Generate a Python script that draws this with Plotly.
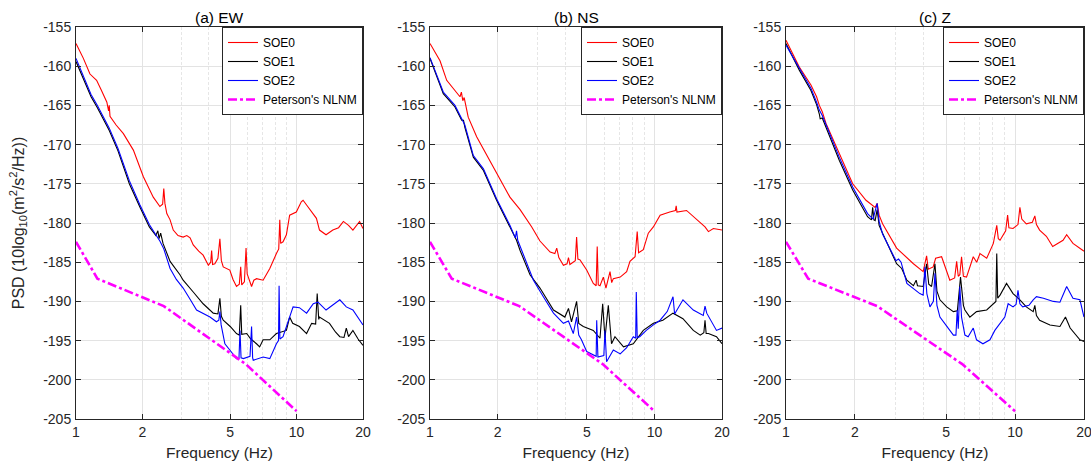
import plotly.graph_objects as go

# ---------------- data ----------------
SERIES_NAMES = ["SOE0", "SOE1", "SOE2", "Peterson's NLNM"]
PANEL_TITLES = ["(a) EW", "(b) NS", "(c) Z"]
X_TICKS = [1, 2, 5, 10, 20]
X_MINOR = [3, 4, 6, 7, 8, 9]
Y_TICKS = [-205, -200, -195, -190, -185, -180, -175, -170, -165, -160, -155]

# Peterson's New Low Noise Model (velocity PSD), shared by all panels
NLNM_F = [1.0, 1.25, 2.5, 5.88, 10.0]
NLNM_V = [-182.4, -187.1, -190.6, -198.0, -204.0]

# ---- (a) EW ----
EW_SOE0_F = [1.00, 1.08, 1.157, 1.24, 1.30, 1.38, 1.405, 1.415, 1.426, 1.52, 1.64, 1.82, 2.02, 2.24, 2.40,
             2.47, 2.50, 2.53, 2.58, 2.67, 2.76, 2.9, 3.06, 3.18, 3.29, 3.40, 3.60, 3.77, 3.98, 4.08, 4.12,
             4.16, 4.26, 4.40, 4.49, 4.56, 4.65, 4.98, 5.15, 5.34, 5.50, 5.58, 5.64, 5.80, 5.90, 5.97, 6.04,
             6.25, 6.40, 6.58, 7.05, 7.56, 8.10, 8.30, 8.39, 8.47, 8.68, 8.99, 9.30, 9.97, 10.5, 10.7, 11.1,
             11.5, 11.9, 12.3, 12.7, 13.6, 14.6, 15.5, 16.3, 17.2, 18.0, 19.3, 20.0]
EW_SOE0_V = [-157.1, -159.0, -161.0, -161.8, -163.0, -164.6, -165.7, -165.0, -166.4, -167.5, -168.6, -170.7,
             -174.1, -176.7, -177.9, -177.6, -175.6, -177.5, -178.8, -179.6, -180.9, -181.6, -181.8, -181.6,
             -181.9, -182.8, -183.6, -184.1, -185.4, -185.0, -183.5, -185.3, -185.2, -184.5, -182.0, -184.8,
             -185.6, -186.0, -187.2, -188.1, -187.8, -185.6, -187.9, -187.5, -183.2, -186.5, -186.9, -188.1,
             -187.3, -187.1, -187.3, -185.8, -183.9, -183.3, -179.6, -182.6, -182.4, -181.5, -179.0, -178.6,
             -177.3, -177.1, -177.7, -178.3, -179.0, -179.4, -180.9, -181.5, -180.9, -180.6, -179.8, -180.3,
             -180.9, -179.8, -180.7]

EW_SOE1_F = [1.00, 1.08, 1.17, 1.25, 1.32, 1.415, 1.55, 1.745, 1.95, 2.15, 2.30, 2.35, 2.38, 2.42, 2.48,
             2.58, 2.67, 2.96, 3.06, 3.40, 3.77, 4.19, 4.40, 4.49, 4.56, 4.65, 5.00, 5.34, 5.50, 5.58, 5.64,
             5.94, 6.2, 6.58, 6.80, 7.05, 7.56, 8.10, 8.99, 9.3, 9.6, 10.3, 11.1, 11.7, 12.2, 12.4, 12.6,
             12.7, 14.1, 15.0, 15.7, 16.4, 16.8, 17.2, 18.0, 19.0, 20.0]
EW_SOE1_V = [-159.4, -161.6, -163.9, -165.3, -166.6, -168.2, -170.8, -175.0, -178.0, -180.5, -181.6, -181.0,
             -182.0, -181.3, -182.6, -183.9, -184.9, -186.6, -187.3, -188.8, -190.3, -191.5, -191.6, -189.6,
             -191.9, -192.4, -193.2, -194.1, -194.3, -190.5, -194.2, -194.1, -194.8, -195.4, -195.8, -194.9,
             -194.9, -194.1, -193.7, -192.0, -192.8, -193.2, -194.1, -192.8, -192.9, -189.0, -192.3, -192.0,
             -192.8, -193.9, -194.5, -194.6, -193.4, -194.5, -193.7, -194.8, -195.6]

EW_SOE2_F = [1.00, 1.08, 1.17, 1.25, 1.32, 1.415, 1.55, 1.745, 1.95, 2.15, 2.30, 2.40, 2.50, 2.67, 2.85,
             3.06, 3.30, 3.52, 4.05, 4.33, 4.44, 4.49, 4.55, 4.73, 4.98, 5.34, 5.48, 5.54, 5.60, 5.74, 6.15,
             6.25, 6.32, 6.36, 7.05, 7.56, 8.10, 8.28, 8.33, 8.40, 8.68, 9.3, 9.64, 10.3, 11.1, 11.9, 12.5,
             13.6, 15.7, 16.8, 18.0, 20.0]
EW_SOE2_V = [-159.0, -161.3, -163.6, -165.0, -166.3, -167.9, -170.5, -174.6, -177.7, -180.2, -181.5, -182.3,
             -183.3, -185.8, -187.2, -188.3, -189.8, -191.1, -192.0, -192.6, -192.4, -191.3, -193.0, -195.4,
             -196.2, -197.3, -197.3, -193.7, -197.2, -197.3, -197.0, -193.2, -197.2, -197.5, -197.1, -197.3,
             -195.4, -195.0, -188.0, -194.8, -194.5, -192.0, -190.7, -190.8, -191.5, -190.3, -190.1, -191.1,
             -189.8, -190.7, -191.1, -193.0]

# ---- (b) NS ----
NS_SOE0_F = [1.00, 1.108, 1.187, 1.292, 1.36, 1.38, 1.40, 1.42, 1.48, 1.614, 1.98, 2.27, 2.52, 2.84, 3.09,
             3.43, 3.60, 3.67, 3.75, 3.93, 4.08, 4.14, 4.20, 4.35, 4.44, 4.50, 4.56, 4.66, 4.99, 5.34, 5.50,
             5.56, 5.62, 5.72, 5.92, 6.08, 6.34, 6.45, 6.56, 7.04, 7.52, 7.78, 8.2, 8.38, 8.5, 8.92, 9.39,
             9.89, 10.6, 11.7, 12.4, 12.5, 12.6, 13.9, 15.4, 16.8, 17.4, 18.3, 20.0]
NS_SOE0_V = [-157.1, -159.3, -161.8, -163.1, -163.9, -163.3, -164.4, -164.0, -166.5, -169.0, -173.7, -176.7,
             -178.3, -180.5, -182.3, -183.7, -183.9, -183.2, -184.4, -185.4, -185.2, -184.4, -185.3, -185.0,
             -184.8, -181.8, -184.6, -184.7, -186.0, -187.7, -188.0, -183.0, -187.9, -188.0, -186.9, -188.3,
             -186.2, -187.6, -187.1, -186.9, -186.2, -184.9, -184.3, -181.1, -183.8, -183.4, -181.3, -180.5,
             -179.0, -178.6, -178.4, -177.8, -178.6, -178.4, -179.6, -180.5, -181.1, -180.7, -180.9]

NS_SOE1_F = [1.00, 1.146, 1.292, 1.384, 1.41, 1.43, 1.56, 1.73, 1.98, 2.27, 2.43, 2.52, 2.79, 3.09, 3.55,
             3.99, 4.14, 4.27, 4.50, 4.60, 4.82, 5.34, 5.72, 5.88, 6.02, 6.23, 6.44, 6.67, 7.28, 8.05, 8.92,
             9.89, 10.9, 12.1, 13.4, 14.9, 16.0, 16.6, 16.8, 17.0, 17.4, 18.9, 20.0]
NS_SOE1_V = [-159.0, -163.5, -165.2, -166.9, -166.9, -167.8, -171.6, -173.3, -177.1, -180.5, -182.2, -183.5,
             -186.6, -188.3, -191.1, -192.0, -190.9, -192.6, -190.0, -192.8, -193.2, -193.7, -194.7, -190.3,
             -194.7, -190.5, -195.4, -194.5, -195.8, -195.4, -193.7, -192.8, -192.4, -191.5, -192.2, -193.7,
             -194.3, -194.0, -192.4, -194.1, -194.1, -194.5, -195.4]

NS_SOE2_F = [1.00, 1.146, 1.292, 1.384, 1.43, 1.56, 1.73, 1.98, 2.27, 2.40, 2.43, 2.46, 2.52, 2.89, 3.2,
             3.55, 3.93, 4.14, 4.35, 4.50, 4.60, 4.73, 4.99, 5.3, 5.50, 5.53, 5.6, 5.95, 6.02, 6.12, 6.56,
             7.04, 7.52, 8.05, 8.25, 8.3, 8.38, 8.6, 9.2, 9.89, 10.6, 11.4, 12.1, 12.3, 13.4, 14.9, 16.5,
             16.8, 17.1, 18.9, 20.0]
NS_SOE2_V = [-158.9, -163.3, -165.0, -166.7, -167.5, -171.4, -173.1, -176.9, -180.3, -181.9, -181.0, -182.2,
             -183.0, -187.3, -189.4, -191.5, -192.8, -192.5, -194.1, -192.0, -194.3, -194.9, -196.4, -196.8,
             -197.0, -192.4, -197.1, -196.9, -193.7, -197.7, -196.2, -196.7, -195.9, -194.5, -194.7, -188.8,
             -194.6, -194.5, -193.7, -193.0, -192.4, -191.3, -189.4, -191.6, -189.8, -191.1, -191.8, -190.6,
             -191.5, -193.7, -193.4]

# ---- (c) Z ----
Z_SOE0_F = [1.00, 1.143, 1.285, 1.36, 1.398, 1.44, 1.495, 1.708, 1.955, 2.235, 2.40, 2.45, 2.50, 2.55, 2.64,
            3.04, 3.60, 3.97, 4.11, 4.18, 4.39, 4.50, 4.78, 5.19, 5.45, 5.56, 5.65, 5.74, 5.84, 5.95, 6.14,
            6.57, 6.8, 7.03, 7.52, 8.04, 8.32, 8.45, 8.6, 9.1, 9.28, 9.4, 9.8, 10.3, 10.5, 10.7, 11.2, 11.9,
            12.2, 12.4, 12.8, 13.7, 14.6, 16.2, 16.8, 17.9, 19.8, 20.0]
Z_SOE0_V = [-156.7, -160.1, -162.4, -163.9, -165.0, -165.8, -167.3, -171.2, -175.0, -177.1, -177.8, -178.0,
            -177.5, -179.0, -180.1, -183.2, -185.2, -186.2, -184.2, -185.9, -185.6, -184.5, -184.3, -187.3,
            -187.0, -184.9, -186.8, -186.6, -184.3, -186.8, -186.9, -184.3, -185.0, -183.9, -184.5, -182.6,
            -180.3, -182.0, -182.2, -181.0, -179.0, -180.6, -180.7, -180.2, -178.0, -179.5, -180.1, -179.9,
            -179.1, -180.2, -180.9, -181.7, -183.0, -182.2, -181.5, -182.6, -183.5, -183.6]

Z_SOE1_F = [1.00, 1.143, 1.285, 1.36, 1.398, 1.41, 1.44, 1.708, 1.955, 2.27, 2.36, 2.39, 2.42, 2.45, 2.50,
            2.55, 2.64, 3.04, 3.2, 3.37, 3.60, 3.70, 3.75, 3.97, 4.11, 4.2, 4.32, 4.47, 4.56, 4.70, 5.03,
            5.38, 5.6, 5.78, 5.95, 6.04, 6.35, 6.79, 7.52, 8.04, 8.25, 8.32, 8.40, 8.6, 9.18, 9.8, 10.5,
            11.2, 12.0, 12.2, 12.4, 12.8, 14.2, 15.7, 16.6, 17.4, 19.2, 20.0]
Z_SOE1_V = [-157.1, -160.5, -163.1, -164.9, -166.1, -166.7, -166.6, -172.0, -175.8, -179.2, -179.6, -178.0,
            -179.6, -179.7, -178.3, -180.3, -181.3, -185.2, -185.8, -187.3, -188.0, -187.3, -188.0, -188.1,
            -185.2, -187.8, -188.1, -185.2, -188.7, -189.8, -190.7, -191.3, -191.2, -186.9, -190.5, -191.1,
            -192.0, -191.3, -191.1, -190.3, -190.0, -183.9, -189.6, -189.2, -187.7, -189.0, -189.8, -190.7,
            -191.3, -190.5, -191.8, -192.4, -193.0, -193.2, -192.0, -193.4, -194.9, -195.1]

Z_SOE2_F = [1.00, 1.143, 1.285, 1.36, 1.398, 1.44, 1.708, 1.955, 2.27, 2.40, 2.50, 2.55, 2.64, 3.02, 3.10,
            3.18, 3.37, 3.84, 3.97, 4.04, 4.12, 4.25, 4.40, 4.47, 4.56, 4.70, 5.03, 5.38, 5.52, 5.59, 5.65,
            5.74, 5.84, 6.04, 6.24, 6.57, 6.79, 7.24, 7.77, 8.16, 9.02, 9.33, 9.8, 10.1, 10.3, 10.5, 10.8,
            11.5, 12.0, 12.4, 13.3, 14.7, 15.7, 16.8, 17.9, 19.2, 20.0]
Z_SOE2_V = [-157.3, -160.3, -162.8, -164.6, -165.6, -166.3, -171.6, -175.4, -178.8, -179.5, -177.5, -179.8,
            -181.4, -184.8, -184.6, -185.0, -187.7, -189.0, -189.2, -185.6, -189.0, -190.7, -190.0, -186.4,
            -190.5, -192.0, -193.2, -194.3, -194.3, -191.1, -193.5, -188.1, -192.0, -194.3, -194.5, -193.4,
            -194.9, -195.4, -194.9, -193.7, -192.0, -190.3, -190.7, -190.4, -188.6, -190.3, -190.7, -190.5,
            -189.8, -189.4, -189.6, -190.0, -190.1, -188.1, -189.6, -189.8, -192.0]

PANELS = [
    [(EW_SOE0_F, EW_SOE0_V), (EW_SOE1_F, EW_SOE1_V), (EW_SOE2_F, EW_SOE2_V), (NLNM_F, NLNM_V)],
    [(NS_SOE0_F, NS_SOE0_V), (NS_SOE1_F, NS_SOE1_V), (NS_SOE2_F, NS_SOE2_V), (NLNM_F, NLNM_V)],
    [(Z_SOE0_F, Z_SOE0_V), (Z_SOE1_F, Z_SOE1_V), (Z_SOE2_F, Z_SOE2_V), (NLNM_F, NLNM_V)],
]

# ---------------- styling ----------------
W, H = 1091, 465
FONT = "Liberation Sans, Arial, Helvetica, sans-serif"
TXT = "#262626"
COLORS = ["#ff0000", "#000000", "#0000ff", "#ff00ff"]
LINES = [dict(width=1.1), dict(width=1.1), dict(width=1.1), dict(width=2.6, dash="dashdot")]

X_DOMAINS = [(76 / W, 363 / W), (430 / W, 722 / W), (786 / W, 1084 / W)]
Y_DOMAIN = (1 - 419 / H, 1 - 27 / H)

fig = go.Figure()
legend_names = ["legend", "legend2", "legend3"]

for p, series in enumerate(PANELS):
    xa = "x" if p == 0 else f"x{p + 1}"
    ya = "y" if p == 0 else f"y{p + 1}"
    for s, (fx, vy) in enumerate(series):
        line = dict(color=COLORS[s], **LINES[s])
        fig.add_trace(go.Scatter(x=fx, y=vy, mode="lines", name=SERIES_NAMES[s], line=line,
                                 xaxis=xa, yaxis=ya, legend=legend_names[p]))

layout = dict(
    width=W, height=H,
    margin=dict(l=0, r=0, t=0, b=0),
    paper_bgcolor="white", plot_bgcolor="white",
    font=dict(family=FONT, size=14, color=TXT),
    showlegend=True,
)

for p in range(3):
    sx = "" if p == 0 else str(p + 1)
    layout["xaxis" + sx] = dict(
        type="log", range=[0, 1.30103], domain=X_DOMAINS[p], anchor="y" + sx,
        tickmode="array", tickvals=X_TICKS, ticktext=[str(t) for t in X_TICKS],
        showgrid=True, gridcolor="#e3e3e3", gridwidth=1,
        minor=dict(tickmode="array", tickvals=X_MINOR, showgrid=True, gridcolor="#e6e6e6",
                   griddash="3px,2px", gridwidth=1, ticks=""),
        showline=True, linecolor=TXT, linewidth=1, mirror="ticks",
        ticks="inside", ticklen=5, tickcolor=TXT, tickfont=dict(size=14, color=TXT),
        ticklabeloverflow="allow",
        title=dict(text="Frequency (Hz)", font=dict(size=15.5, color=TXT), standoff=8),
        zeroline=False, automargin=False,
    )
    layout["yaxis" + sx] = dict(
        range=[-205, -155], domain=Y_DOMAIN, anchor="x" + sx,
        tickmode="array", tickvals=Y_TICKS, ticktext=[str(t) for t in Y_TICKS],
        showgrid=True, gridcolor="#e3e3e3", gridwidth=1,
        showline=True, linecolor=TXT, linewidth=1, mirror="ticks",
        ticks="inside", ticklen=5, tickcolor=TXT, tickfont=dict(size=14, color=TXT),
        ticklabelstandoff=1, ticklabeloverflow="allow",
        zeroline=False, automargin=False,
    )
    layout[legend_names[p]] = dict(
        x=X_DOMAINS[p][1], xanchor="right", y=Y_DOMAIN[1], yanchor="top",
        bgcolor="white", bordercolor=TXT, borderwidth=1,
        font=dict(size=12, color="#000000"), itemwidth=30, tracegroupgap=0,
    )

layout["yaxis"]["title"] = dict(
    text="PSD (10log<sub>10</sub>(m<sup>2</sup>/s<sup>2</sup>/Hz))",
    font=dict(size=16, color=TXT), standoff=14)

annotations = []
for p in range(3):
    cx = (X_DOMAINS[p][0] + X_DOMAINS[p][1]) / 2
    annotations.append(dict(text=PANEL_TITLES[p], x=cx, y=1 - 17 / H, xref="paper", yref="paper",
                            xanchor="center", yanchor="middle", showarrow=False,
                            font=dict(size=15.5, color="#000000", family=FONT)))
layout["annotations"] = annotations

fig.update_layout(**layout)
fig.write_html("out.html",
               config={"displayModeBar": False},
               post_script="document.body.style.margin='0';document.body.style.overflow='hidden';")
